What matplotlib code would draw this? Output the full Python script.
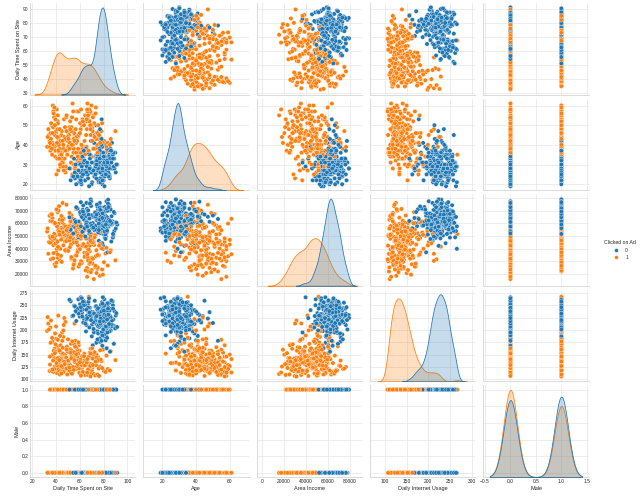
import numpy as np
import pandas as pd
import matplotlib
matplotlib.use("Agg")
import matplotlib.pyplot as plt
import seaborn as sns

time_0 = [78.7, 80.2, 74.2, 88.9, 83.1, 79.5, 82.0, 87.3, 78.7, 76.0, 86.4, 84.4, 77.2, 84.6, 74.5, 71.1, 81.3, 75.8, 79.9, 73.4,
          85.2, 77.6, 80.9, 72.8, 82.7, 76.4, 89.7, 78.1, 81.8, 75.2, 83.6, 70.4, 79.0, 86.0, 77.9, 74.9, 80.6, 91.4, 76.8, 82.3,
          73.9, 84.1, 78.4, 80.0, 71.9, 87.8, 75.6, 79.3, 83.0, 76.2, 81.1, 72.3, 85.7, 77.4, 79.7, 74.6, 82.9, 78.9, 88.2, 75.0,
          80.4, 73.1, 84.8, 76.6, 81.5, 79.1, 70.9, 86.7, 77.0, 82.5, 74.0, 80.8, 78.2, 90.2, 75.4, 83.4, 79.6, 72.6, 81.9, 77.7,
          85.0, 76.9, 80.1, 73.6, 78.5, 84.3, 75.9, 82.1, 79.4, 71.5, 87.0, 77.1, 80.7, 74.3, 83.8,
          68.9, 69.5, 68.4, 60.0, 66.9, 64.2, 62.5, 58.8, 69.9, 55.2, 65.6, 67.3, 61.9, 63.7, 52.4, 66.1, 59.6, 68.0, 64.9, 57.3,
          62.9, 67.8, 60.7, 65.2, 56.1, 69.2, 63.1, 61.4, 66.5, 53.8,
          76.3, 81.7, 79.8, 73.2, 85.9, 78.0, 82.8, 75.5, 80.5, 87.5, 77.5, 83.9, 74.8, 79.2, 81.0, 72.0, 84.9, 77.8, 80.3, 76.1,
          89.1, 78.3, 82.6, 74.4, 79.9, 86.2, 75.7, 81.4, 77.3, 83.2, 70.1, 80.0, 78.8, 84.5, 76.7, 82.2, 73.8, 79.5, 88.6, 77.0,
          81.2, 75.1, 83.7, 78.6, 80.9, 72.9, 86.5, 76.5, 79.0, 82.4, 74.7, 81.6, 77.6, 85.4, 78.1, 71.3, 80.6, 76.0, 84.0, 79.7,
          75.3, 82.9, 78.4, 90.7, 77.2, 80.2, 73.3, 83.3, 79.1, 76.8, 81.9, 74.1, 87.9, 78.9, 69.4,
          67.4, 63.0, 58.2, 65.9, 61.0, 68.5, 55.9, 64.6, 60.3, 66.7, 51.3, 62.1, 67.0, 59.0, 64.0, 57.0, 65.4, 61.7, 54.5, 63.4,
          68.2, 60.9, 66.2, 62.7, 56.6]
age_0 = [35, 31, 29, 33, 37, 24, 41, 36, 28, 22, 28, 30, 30, 35, 30, 26, 32, 27, 29, 34,
         23, 38, 31, 27, 25, 33, 36, 29, 40, 26, 32, 21, 28, 34, 31, 44, 27, 30, 37, 25,
         33, 29, 39, 22, 31, 35, 28, 26, 32, 47, 30, 24, 38, 29, 27, 33, 31, 20, 36, 28,
         42, 30, 25, 34, 29, 32, 27, 37, 23, 31, 35, 28, 30, 26, 39, 29, 33, 45, 27, 31,
         24, 36, 30, 50, 28, 34, 21, 32, 29, 26, 41, 30, 19, 33, 28,
         35, 26, 35, 23, 29, 22, 27, 31, 20, 33, 25, 28, 24, 30, 22, 36, 21, 29, 27, 25,
         32, 19, 26, 38, 23, 28, 34, 20, 30, 24,
         30, 27, 34, 25, 32, 29, 38, 22, 31, 28, 36, 26, 33, 30, 24, 41, 29, 27, 35, 31,
         28, 43, 25, 32, 30, 37, 27, 34, 21, 29, 31, 26, 39, 28, 33, 30, 23, 36, 29, 48,
         32, 27, 30, 25, 34, 28, 31, 38, 22, 29, 35, 30, 26, 33, 40, 27, 31, 29, 24, 36,
         28, 32, 53, 30, 26, 34, 29, 31, 27, 37, 25, 30, 33, 28, 42,
         27, 31, 24, 29, 21, 33, 26, 22, 30, 25, 28, 34, 23, 27, 32, 20, 26, 29, 24, 37,
         28, 22, 31, 25, 30]
income_0 = [61830, 68440, 54810, 53850, 62490, 51740, 71510, 61630, 64830, 46180, 45590, 61390, 64800, 60020, 68860, 57200, 66420, 73880, 59760, 55640,
            70310, 63120, 58470, 67230, 52980, 75140, 60550, 65990, 49870, 69280, 62740, 56310, 72460, 59030, 64370, 67810, 53420, 58960, 76320, 63550,
            57880, 61170, 70640, 55290, 66010, 48720, 62930, 69750, 59410, 65280, 73010, 54560, 60870, 67540, 63860, 57040, 71890, 61520, 50630, 68120,
            64650, 58210, 74480, 56770, 62150, 69930, 60310, 65720, 52240, 77650, 63330, 59880, 66690, 55950, 70980, 61960, 42150, 67020, 64010, 58640,
            72780, 60690, 54080, 66330, 63640, 57530, 68580, 62220, 39780, 65070, 59240, 71240, 56120, 62580, 78900,
            59790, 73890, 52180, 59760, 55110, 62340, 70820, 48960, 66530, 57870, 76250, 64110, 50420, 68630, 54870, 71590, 61080, 47350, 65720, 58460,
            74310, 53940, 67190, 60270, 56880, 79130, 63480, 52610, 69800, 48150,
            63210, 58740, 67950, 55380, 71120, 61450, 64980, 52860, 69340, 60110, 66780, 57490, 73520, 62830, 48530, 65560, 59270, 70460, 63970, 54720,
            68210, 61790, 56140, 74950, 64420, 59550, 67370, 51090, 62640, 70010, 58080, 65910, 44270, 63020, 72340, 60940, 66120, 55830, 69070, 61280,
            57210, 64760, 75810, 62050, 53530, 68770, 60440, 66450, 58530, 71760, 63780, 47640, 65230, 61910, 69600, 56540, 64090, 59930, 73030, 62410,
            67660, 54210, 63510, 60630, 70720, 57830, 65480, 36990, 68040, 62960, 59060, 66940, 51630, 64320, 77280,
            66930, 54120, 71850, 60890, 57660, 75730, 62600, 49540, 68990, 58050, 64850, 53270, 70390, 61630, 56270, 72890, 59140, 65100, 51980, 67560,
            63890, 76900, 57370, 69460, 61150]
usage_0 = [256, 194, 246, 208, 231, 214, 188, 210, 205, 210, 207, 202, 224, 227, 222, 236, 219, 244, 213, 198,
           229, 241, 186, 217, 252, 225, 203, 234, 179, 221, 247, 211, 238, 199, 216, 228, 262, 206, 233, 219,
           174, 242, 212, 226, 195, 250, 218, 237, 204, 223, 191, 232, 215, 244, 209, 227, 184, 240, 221, 197,
           230, 213, 255, 207, 236, 220, 169, 243, 226, 201, 217, 249, 211, 229, 193, 235, 224, 259, 205, 218,
           239, 183, 228, 214, 246, 208, 233, 222, 266, 202, 219, 176, 241, 212, 230,
           237, 226, 245, 227, 253, 218, 241, 262, 232, 249, 210, 257, 234, 222, 258, 229, 244, 205, 250, 236,
           215, 264, 239, 197, 247, 224, 255, 231, 242, 228,
           218, 235, 204, 247, 226, 192, 239, 213, 231, 258, 209, 224, 181, 242, 217, 233, 197, 251, 222, 206,
           238, 215, 163, 228, 245, 211, 234, 199, 220, 254, 187, 227, 240, 212, 230, 203, 248, 218, 172, 236,
           225, 208, 243, 196, 232, 219, 260, 214, 189, 229, 241, 205, 223, 156, 237, 216, 250, 210, 231, 201,
           244, 221, 178, 234, 213, 239, 226, 195, 253, 217, 207, 228, 243, 168, 220,
           236, 259, 243, 221, 266, 230, 248, 213, 252, 239, 261, 227, 245, 233, 256, 218, 241, 264, 229, 250,
           235, 246, 224, 257, 238]
male_0 = [0, 1, 1, 0, 1, 0, 0, 1, 1, 0, 1, 1, 1, 0, 1, 0, 0, 1, 1, 0,
          0, 1, 0, 1, 1, 0, 1, 0, 0, 1, 1, 0, 1, 1, 0, 0, 1, 0, 1, 0,
          1, 0, 0, 1, 0, 1, 1, 0, 1, 0, 0, 1, 0, 1, 1, 0, 1, 0, 0, 1,
          0, 1, 1, 0, 0, 1, 0, 1, 1, 0, 1, 0, 0, 1, 0, 1, 1, 0, 1, 0,
          1, 0, 1, 0, 0, 1, 1, 0, 1, 0, 0, 1, 0, 1, 1,
          0, 0, 1, 1, 1, 0, 1, 0, 1, 1, 0, 1, 0, 0, 1, 1, 0, 1, 0, 1,
          1, 0, 0, 1, 0, 1, 1, 0, 0, 1,
          1, 0, 1, 1, 0, 0, 1, 0, 1, 0, 0, 1, 1, 0, 1, 0, 1, 1, 0, 0,
          1, 0, 0, 1, 1, 0, 0, 1, 0, 1, 1, 0, 1, 0, 0, 1, 0, 1, 1, 0,
          0, 1, 1, 0, 1, 0, 0, 1, 0, 1, 0, 1, 1, 0, 0, 1, 0, 0, 1, 1,
          0, 1, 0, 1, 0, 1, 1, 0, 0, 1, 0, 1, 1, 0, 1,
          1, 0, 1, 0, 0, 1, 1, 0, 1, 0, 1, 0, 0, 1, 1, 0, 1, 0, 0, 1,
          0, 1, 0, 1, 0]

# Clicked on Ad = 1
time_1 = [47.6, 43.0, 41.5, 41.4, 48.5, 38.9, 44.5, 35.3, 39.9, 46.1, 42.1, 33.6, 45.0, 40.7, 37.1, 43.8, 47.0, 36.4, 42.6, 39.3,
          44.9, 34.7, 41.9, 46.8, 38.2, 43.3, 40.2, 32.6, 45.6, 37.8, 42.3, 39.6, 47.9, 36.0, 44.2, 41.1, 34.1, 40.5, 43.6, 38.5,
          46.4, 35.8, 42.9, 37.4, 45.3,
          51.9, 55.6, 57.6, 62.3, 50.4, 59.1, 54.7, 63.4, 49.8, 56.3, 60.8, 53.2, 58.4, 48.3, 61.7, 55.0, 52.6, 64.5, 57.1, 50.9,
          59.8, 53.9, 62.9, 56.7, 49.2, 60.3, 54.3, 58.9, 51.4, 63.8, 55.8, 52.1, 61.1, 57.9, 50.1, 59.4, 54.0, 64.0, 56.0, 48.8,
          62.0, 53.5, 58.1, 51.0, 60.0,
          66.0, 69.6, 70.2, 74.6, 65.8, 67.6, 72.1, 76.9, 68.4, 80.3, 71.3, 66.9, 78.2, 73.5, 69.1, 83.5, 75.4, 67.2, 71.8, 86.0,
          70.6, 77.6, 68.9, 74.1, 65.4, 81.6, 72.9, 69.8, 79.4, 66.5, 89.9, 73.0, 70.0, 75.9, 67.9,
          43.2, 39.0, 45.9, 41.7, 36.8, 44.0, 40.1, 47.3, 42.4, 38.0, 34.9, 45.2, 41.0, 43.9, 37.6, 46.6, 40.9, 39.5, 44.6, 35.5,
          42.0, 47.7, 38.7, 43.5, 41.3, 36.6, 45.7, 40.4, 33.1, 44.4, 39.2, 46.2, 42.7, 37.2, 41.6, 48.1, 35.0, 43.0,
          50.6, 56.9, 53.0, 59.6, 48.6, 61.4, 55.3, 52.3, 58.6, 63.1, 49.5, 57.3, 54.5, 60.5, 51.7, 56.5, 64.8, 53.7, 59.2, 50.3,
          62.6, 55.1, 57.7, 52.9, 61.0, 49.0, 58.3, 54.8, 63.6, 51.2, 56.1, 60.1, 53.4, 57.0, 64.3, 55.5, 52.0,
          65.3, 68.1, 71.6, 66.6, 73.9, 69.3, 77.1, 67.0, 70.8, 75.0, 65.9, 72.5, 68.7, 82.4, 66.2, 74.9, 70.4, 78.8, 67.5, 71.0,
          85.3, 69.0, 73.2, 76.2, 66.4]
age_1 = [49, 33, 52, 41, 28, 39, 45, 37, 55, 31, 43, 48, 36, 58, 41, 30, 44, 50, 38, 34,
         47, 42, 27, 53, 40, 35, 46, 39, 32, 57, 44, 37, 26, 51, 42, 33, 45, 40, 29, 54,
         38, 43, 36, 60, 41,
         52, 23, 57, 53, 46, 57, 36, 39, 42, 27, 48, 34, 44, 29, 50, 38, 31, 55, 41, 45,
         35, 47, 26, 43, 37, 51, 40, 33, 49, 22, 45, 39, 58, 30, 44, 36, 61, 42, 28, 47,
         38, 54, 32, 40, 46,
         48, 48, 34, 40, 39, 35, 51, 44, 56, 42, 38, 53, 47, 59, 45, 41, 50, 37, 55, 43,
         49, 39, 57, 46, 52, 36, 44, 60, 41, 54, 47, 38, 50, 43, 58,
         38, 45, 29, 51, 35, 42, 47, 33, 40, 56, 39, 31, 44, 36, 49, 27, 41, 53, 34, 46,
         37, 43, 59, 30, 48, 38, 42, 25, 44, 35, 50, 40, 33, 46, 55, 37, 41, 48,
         43, 36, 49, 31, 54, 40, 46, 28, 38, 51, 35, 44, 57, 33, 41, 48, 37, 25, 45, 39,
         52, 30, 42, 47, 36, 55, 34, 43, 50, 38, 29, 46, 40, 53, 35, 42, 48,
         45, 52, 38, 57, 43, 49, 41, 55, 47, 36, 53, 44, 50, 39, 58, 46, 42, 51, 37, 54,
         40, 48, 56, 45, 61]
income_1 = [45630, 30980, 32640, 68960, 38070, 27510, 56420, 61870, 43290, 52760, 70180, 35840, 48960, 39410, 64230, 33750, 58370, 44820, 73690, 50140,
            29380, 66070, 41520, 55730, 47250, 62940, 36890, 53480, 76310, 42760, 59650, 25930, 49380, 67420, 34210, 57960, 45070, 71250, 39820, 51690,
            63580, 31470, 54320, 46890, 60810,
            58300, 30230, 45580, 56770, 57430, 25580, 62180, 41730, 52890, 34620, 47810, 66290, 38940, 50320, 28470, 60560, 43180, 35760, 71490, 49020,
            54930, 31840, 64570, 46370, 39250, 58910, 24170, 52140, 68330, 36690, 44760, 61250, 29930, 55480, 48260, 40870, 63620, 33410, 51760, 74850,
            42320, 57090, 37210, 53660, 27640,
            24590, 51640, 32710, 23820, 76440, 51470, 42880, 18350, 37920, 29140, 46510, 21760, 40230, 33870, 49690, 26480, 35210, 44370, 15720, 38560,
            28090, 53380, 31440, 20470, 47860, 36030, 25310, 43140, 19240, 39980, 30650, 50720, 22910, 34590, 41870,
            52340, 47790, 56910, 41330, 61580, 50260, 44170, 58650, 53890, 36420, 49620, 62750, 46040, 55210, 32180, 51470, 57620, 43880, 65910, 48470,
            54640, 38710, 59880, 50890, 45380, 67190, 52960, 28740, 56030, 47120, 60320, 42560, 53210, 49310, 35290, 57450, 44690, 51110,
            49810, 54260, 31940, 57880, 45930, 52410, 28150, 61670, 50550, 43570, 55870, 34380, 48140, 59360, 41090, 53020, 22650, 47350, 56640, 38130,
            51240, 45010, 58140, 33190, 49960, 54570, 42670, 27030, 53830, 46410, 60090, 39500, 50840, 44880, 55330, 30720, 48770,
            41560, 27820, 45140, 33070, 38690, 21210, 43720, 30390, 47180, 25060, 36570, 49030, 28980, 40560, 17530, 34820, 44690, 23340, 39310, 31870,
            37000, 46080, 26250, 42290, 35500]
usage_1 = [122, 144, 165, 167, 134, 162, 118, 205, 139, 186, 128, 213, 151, 113, 176, 131, 224, 148, 121, 193,
           142, 117, 229, 136, 158, 110, 182, 198, 125, 146, 133, 171, 216, 119, 154, 137, 201, 127, 189, 141,
           115, 219, 130, 150, 178,
           129, 213, 134, 125, 119, 169, 141, 137, 156, 178, 112, 148, 131, 163, 121, 145, 172, 109, 138, 127,
           158, 116, 133, 150, 166, 124, 143, 175, 118, 152, 135, 161, 107, 146, 181, 128, 114, 139, 168, 122,
           147, 111, 159, 132, 126,
           132, 113, 119, 136, 222, 267, 141, 126, 154, 117, 148, 109, 137, 129, 162, 121, 145, 133, 111, 157,
           124, 140, 106, 150, 131, 115, 143, 127, 160, 118, 139, 108, 153, 122, 146,
           137, 126, 152, 119, 184, 141, 207, 131, 160, 115, 146, 195, 123, 169, 138, 210, 128, 156, 112, 174,
           135, 149, 121, 188, 143, 117, 164, 133, 226, 127, 153, 199, 139, 120, 180, 145, 130, 158,
           136, 121, 158, 113, 144, 129, 171, 118, 152, 133, 110, 164, 125, 140, 117, 149, 130, 177, 122, 138,
           115, 155, 127, 143, 108, 160, 131, 119, 147, 124, 166, 135, 112, 151, 128, 139, 154,
           138, 125, 151, 116, 144, 131, 159, 120, 142, 110, 134, 155, 127, 148, 114, 139, 163, 123, 146, 129,
           118, 152, 136, 107, 141]
male_1 = [0, 0, 0, 0, 1, 1, 0, 1, 0, 1, 0, 0, 1, 0, 1, 0, 1, 0, 0, 1,
          1, 0, 0, 1, 0, 1, 0, 0, 1, 0, 1, 0, 0, 1, 0, 1, 0, 0, 1, 0,
          0, 1, 0, 1, 0,
          1, 1, 1, 1, 1, 1, 0, 1, 0, 0, 1, 0, 1, 0, 1, 1, 0, 0, 1, 0,
          0, 1, 0, 1, 0, 0, 1, 1, 0, 1, 0, 0, 1, 0, 1, 1, 0, 0, 1, 0,
          1, 0, 0, 1, 0,
          1, 1, 0, 1, 0, 1, 1, 0, 1, 0, 0, 1, 1, 0, 1, 0, 1, 0, 0, 1,
          0, 1, 1, 0, 0, 1, 0, 1, 0, 1, 0, 0, 1, 1, 0,
          0, 1, 0, 0, 1, 0, 1, 0, 0, 1, 0, 1, 0, 0, 1, 0, 1, 0, 0, 1,
          0, 0, 1, 0, 1, 0, 0, 1, 0, 1, 0, 1, 0, 0, 1, 0, 1, 0,
          1, 0, 0, 1, 0, 1, 1, 0, 0, 1, 0, 1, 0, 0, 1, 0, 1, 1, 0, 0,
          1, 0, 1, 0, 0, 1, 0, 1, 0, 1, 0, 0, 1, 0, 1, 0, 0,
          0, 1, 0, 1, 1, 0, 0, 1, 0, 1, 0, 0, 1, 1, 0, 1, 0, 0, 1, 0,
          1, 0, 1, 0, 0]

columns = ["Daily Time Spent on Site", "Age", "Area Income", "Daily Internet Usage", "Male"]
x_limits = [(18.3, 106.7), (8.7, 71.3), (-4500, 91000), (65.5, 309), (-0.53, 1.54)]
y_limits = [(29.1, 94.5), (17.0, 63.5), (10400, 83200), (96, 281), (-0.05, 1.05)]
x_ticks = [[20, 40, 60, 80, 100], [20, 40, 60], [0, 20000, 40000, 60000, 80000],
           [100, 150, 200, 250, 300], [-0.5, 0.0, 0.5, 1.0, 1.5]]
y_ticks = [[30, 40, 50, 60, 70, 80, 90], [20, 30, 40, 50, 60],
           [20000, 30000, 40000, 50000, 60000, 70000, 80000],
           [100, 125, 150, 175, 200, 225, 250, 275], [0.0, 0.2, 0.4, 0.6, 0.8, 1.0]]

df0 = pd.DataFrame(dict(zip(columns, [time_0, age_0, income_0, usage_0, male_0])))
df0["Clicked on Ad"] = 0
df1 = pd.DataFrame(dict(zip(columns, [time_1, age_1, income_1, usage_1, male_1])))
df1["Clicked on Ad"] = 1
# interleave the two classes so neither colour always sits on top
df = pd.concat([df0, df1]).sort_index(kind="stable").reset_index(drop=True)

sns.set_theme(style="whitegrid")
plt.rcParams.update({
    "font.family": ["Liberation Sans", "DejaVu Sans"],
    "axes.labelsize": 4.0,
    "xtick.labelsize": 3.5,
    "ytick.labelsize": 3.5,
    "legend.fontsize": 3.5,
    "legend.title_fontsize": 3.7,
    "axes.labelpad": 1.5,
    "xtick.major.pad": 1.2,
    "ytick.major.pad": 1.2,
    "grid.linewidth": 0.5,
    "grid.color": "#e6e6e6",
    "axes.edgecolor": "#d6d6d6",
    "axes.linewidth": 0.6,
})

g = sns.pairplot(df, vars=columns, hue="Clicked on Ad", height=1.0,
                 palette=["#1f77b4", "#ff7f0e"],
                 plot_kws=dict(s=10),
                 diag_kws=dict(linewidth=0.55, bw_adjust=0.8))

fig = g.figure
fig.set_size_inches(6.4, 5.0)
fig.subplots_adjust(left=0.047, right=0.920, bottom=0.046, top=0.994,
                    wspace=0.076, hspace=0.045)

for j in range(5):
    g.axes[0, j].set_xlim(*x_limits[j])
    g.axes[-1, j].set_xticks(x_ticks[j])
for i in range(5):
    g.axes[i, 0].set_ylim(*y_limits[i])
    g.axes[i, 0].set_yticks(y_ticks[i])
for ax in g.axes.flat:
    ax.tick_params(length=0)

leg = g._legend
leg.set_bbox_to_anchor((1.0, 0.5), transform=fig.transFigure)
for h in leg.legend_handles:
    if hasattr(h, "set_markersize"):
        h.set_markersize(2.8)
    else:
        h.set_sizes([10])

fig.savefig("out.png", dpi=100)
